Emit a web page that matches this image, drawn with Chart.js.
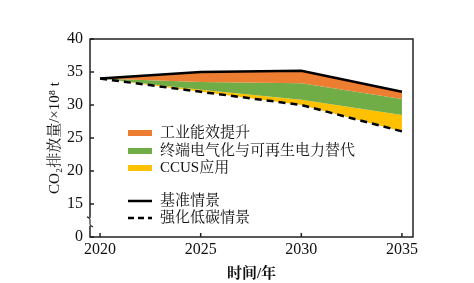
<!DOCTYPE html>
<html>
<head>
<meta charset="utf-8">
<script src="https://cdn.jsdelivr.net/npm/chart.js@4.4.1/dist/chart.umd.min.js"></script>
<style>
  html, body { margin: 0; padding: 0; background: #fff; }
  #wrap { width: 474px; height: 283px; }
</style>
</head>
<body>
<div id="wrap"><canvas id="co2Chart" width="474" height="283"></canvas></div>
<script>
// years on the x axis
const years = [2020, 2025, 2030, 2035];
// baseline scenario (top of orange band)
const baseline = [34, 35.0, 35.2, 32.0];
// after industrial efficiency (orange/green boundary)
const afterEfficiency = [34, 33.5, 33.3, 30.9];
// after electrification + renewables (green/yellow boundary)
const afterElectric = [34, 32.3, 30.8, 28.5];
// enhanced low-carbon scenario (dashed line)
const lowCarbon = [34, 32.0, 30.0, 26.0];

const yTicks = [10, 15, 20, 25, 30, 35, 40];
const yTickLabels = ['0', '15', '20', '25', '30', '35', '40'];

const bandLabels = ['工业能效提升', '终端电气化与可再生电力替代', 'CCUS应用'];
const bandColors = ['#ED7D31', '#70AD47', '#FFC000'];
const lineLabels = ['基准情景', '强化低碳情景'];

const fontFam = "'Liberation Serif', 'Noto Serif CJK SC', serif";
Chart.defaults.font.family = fontFam;
Chart.defaults.color = '#111';

const pts = arr => years.map((x, i) => ({ x: x, y: arr[i] }));

// frame, inward ticks, axis break and in-plot legend
const decorPlugin = {
    id: 'decor',
    afterDraw(chart) {
        const ctx = chart.ctx;
        const a = chart.chartArea;
        const xs = chart.scales.x, ys = chart.scales.y;
        ctx.save();
        ctx.strokeStyle = '#222';
        ctx.lineWidth = 1.5;
        ctx.strokeRect(a.left, a.top, a.right - a.left, a.bottom - a.top);
        ctx.beginPath();
        years.forEach(v => {
            const px = xs.getPixelForValue(v);
            ctx.moveTo(px, a.bottom);
            ctx.lineTo(px, a.bottom - 4);
        });
        yTicks.forEach(v => {
            const py = ys.getPixelForValue(v);
            ctx.moveTo(a.left, py);
            ctx.lineTo(a.left + 4, py);
        });
        ctx.stroke();

        // axis break between 0 and 15
        const by = ys.getPixelForValue(12.3);
        ctx.fillStyle = '#fff';
        ctx.fillRect(a.left - 3, by - 4, 6, 8);
        ctx.beginPath();
        ctx.lineWidth = 1.2;
        ctx.moveTo(a.left - 3, by - 5);
        ctx.bezierCurveTo(a.left + 4, by - 3, a.left - 4, by + 3, a.left + 3, by + 5);
        ctx.stroke();

        // legend
        const lx = 128, tx = 160;
        ctx.font = "15px " + fontFam;
        ctx.textBaseline = 'middle';
        const rows = [133, 151, 168];
        bandLabels.forEach((lab, i) => {
            ctx.fillStyle = bandColors[i];
            ctx.fillRect(lx, rows[i] - 3, 24, 6);
            ctx.fillStyle = '#111';
            ctx.fillText(lab, tx, rows[i]);
        });
        const lrows = [201, 218];
        lineLabels.forEach((lab, i) => {
            ctx.strokeStyle = '#000';
            ctx.lineWidth = 2.5;
            ctx.setLineDash(i === 0 ? [] : [6, 4]);
            ctx.beginPath();
            ctx.moveTo(lx, lrows[i]);
            ctx.lineTo(lx + 24, lrows[i]);
            ctx.stroke();
            ctx.setLineDash([]);
            ctx.fillStyle = '#111';
            ctx.fillText(lab, tx, lrows[i]);
        });
        ctx.restore();
    }
};

const ctx = document.getElementById('co2Chart').getContext('2d');
new Chart(ctx, {
    type: 'line',
    data: {
        datasets: [{
            label: lineLabels[0],
            data: pts(baseline),
            borderColor: '#000',
            borderWidth: 2.5,
            backgroundColor: bandColors[0],
            fill: '+1'
        }, {
            label: bandLabels[1],
            data: pts(afterEfficiency),
            borderWidth: 0,
            borderColor: 'rgba(0,0,0,0)',
            backgroundColor: bandColors[1],
            fill: '+1'
        }, {
            label: bandLabels[2],
            data: pts(afterElectric),
            borderWidth: 0,
            borderColor: 'rgba(0,0,0,0)',
            backgroundColor: bandColors[2],
            fill: '+1'
        }, {
            label: lineLabels[1],
            data: pts(lowCarbon),
            borderColor: '#000',
            borderWidth: 2.5,
            borderDash: [7, 5],
            fill: false
        }]
    },
    options: {
        responsive: false,
        animation: false,
        elements: { point: { radius: 0 }, line: { tension: 0 } },
        layout: { padding: { top: 39, right: 61, left: 0, bottom: 0 } },
        plugins: {
            legend: { display: false },
            tooltip: { enabled: false },
            filler: { drawTime: 'beforeDatasetsDraw' }
        },
        scales: {
            x: {
                type: 'linear',
                min: 2019.5,
                max: 2035.55,
                afterBuildTicks: s => { s.ticks = years.map(v => ({ value: v })); },
                afterFit: s => { s.height = 283 - 237; },
                grid: { display: false, drawTicks: false },
                border: { display: false },
                ticks: { padding: 3, font: { size: 16 }, callback: v => String(v) },
                title: { display: true, text: '时间/年', padding: { top: 0, bottom: 0 },
                         font: { size: 15, weight: 'bold' } }
            },
            y: {
                min: 10,
                max: 40,
                afterBuildTicks: s => { s.ticks = yTicks.map(v => ({ value: v })); },
                afterFit: s => { s.width = 90; },
                grid: { display: false, drawTicks: false },
                border: { display: false },
                ticks: { padding: 7, font: { size: 16 },
                         callback: v => yTickLabels[yTicks.indexOf(v)] },
                title: { display: true, text: 'CO₂排放量/×10⁸ t', padding: { top: 46, bottom: 0 },
                         font: { size: 15 } }
            }
        }
    },
    plugins: [decorPlugin]
});
</script>
</body>
</html>
